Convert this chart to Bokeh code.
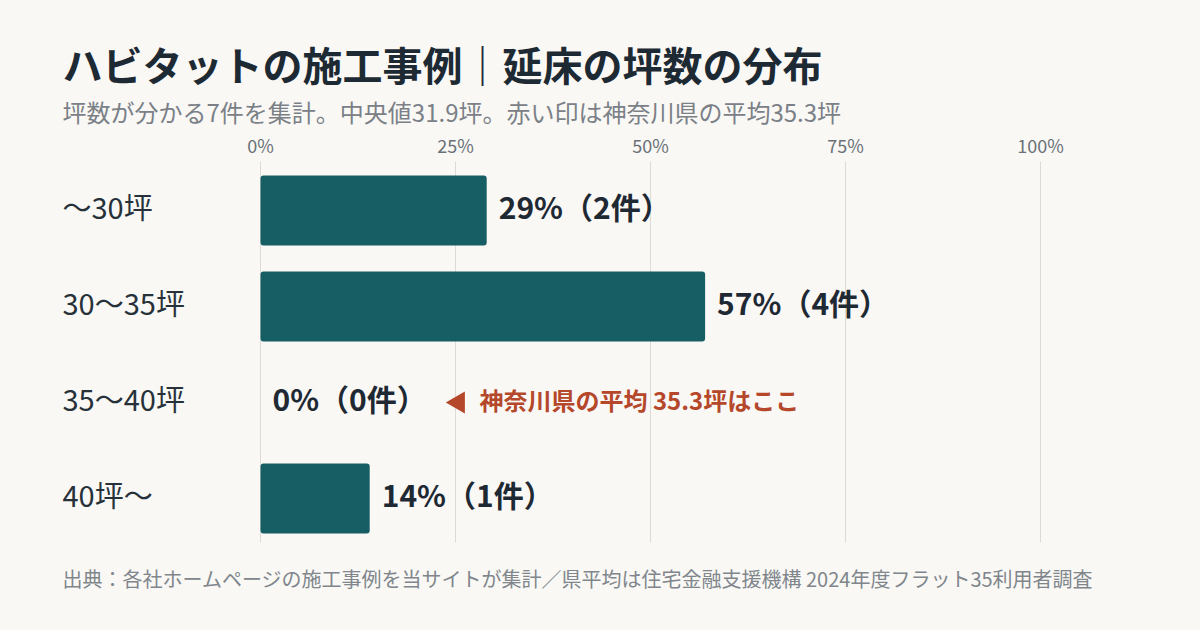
from bokeh.plotting import figure
from bokeh.models import Range1d, Label, FixedTicker, ColumnDataSource, LinearAxis
from bokeh.core.properties import value
from bokeh.embed import file_html
from bokeh.resources import INLINE

# ---- data ----
categories = ["〜30坪", "30〜35坪", "35〜40坪", "40坪〜"]
percents = [29, 57, 0, 14]
counts = [2, 4, 0, 1]
tick_values = [0, 25, 50, 75, 100]
tick_labels = ["0%", "25%", "50%", "75%", "100%"]
title_text = "ハビタットの施工事例｜延床の坪数の分布"
subtitle_text = "坪数が分かる7件を集計。中央値31.9坪。赤い印は神奈川県の平均35.3坪"
note_text = "神奈川県の平均 35.3坪はここ"
note_row = "35〜40坪"
footer_text = "出典：各社ホームページの施工事例を当サイトが集計／県平均は住宅金融支援機構 2024年度フラット35利用者調査"

FONT = "Noto Sans CJK JP"
BG = "#f9f8f5"
W, H = 1200, 630
PX = 7.8    # pixels per percent
ROW = 96    # pixels per row

idx = list(range(len(categories)))
value_labels = [f"{p}%（{c}件）" for p, c in zip(percents, counts)]
src = ColumnDataSource(dict(y=idx, cat=categories, pct=percents, lab=value_labels,
                            zero=[0] * len(idx)))

p = figure(width=W, height=H, output_backend="svg", toolbar_location=None,
           x_axis_location=None, y_axis_location=None,
           x_range=Range1d(-260 / PX, (W - 260) / PX),
           y_range=Range1d(3 + (H - 498) / ROW, -210 / ROW),
           min_border_left=0, min_border_right=0,
           min_border_top=0, min_border_bottom=0)
p.background_fill_color = BG
p.border_fill_color = BG
p.outline_line_color = None
p.xgrid.visible = False
p.ygrid.visible = False

grid_top = -49 / ROW
grid_bottom = 3 + 44 / ROW

ax = LinearAxis(ticker=FixedTicker(ticks=tick_values), fixed_location=grid_top)
ax.major_label_overrides = {t: l for t, l in zip(tick_values, tick_labels)}
ax.axis_line_color = None
ax.major_tick_line_color = None
ax.minor_tick_line_color = None
ax.major_tick_out = 0
ax.major_tick_in = 0
ax.minor_tick_out = 0
ax.minor_tick_in = 0
ax.major_label_standoff = 4
ax.major_label_text_font = FONT
ax.major_label_text_font_size = "18px"
ax.major_label_text_color = "#6b7177"
p.add_layout(ax, "above")

p.segment(x0=tick_values, y0=[grid_top] * len(tick_values),
          x1=tick_values, y1=[grid_bottom] * len(tick_values),
          line_color="#dddbd6", line_width=1)

p.hbar(y="y", left="zero", right="pct", height=70 / ROW, source=src,
       fill_color="#165e63", line_color=None, border_radius=3)

p.text(x="pct", y="y", text="lab", source=src, x_offset=12, y_offset=-5,
       text_font=value(FONT), text_font_style="bold", text_font_size="30px",
       text_color="#1f2933", text_baseline="middle", text_align="left")

p.text(x=-198 / PX, y="y", text="cat", source=src, y_offset=-5,
       text_font=value(FONT), text_font_size="29px",
       text_color="#27313a", text_baseline="middle", text_align="left")

note_y = categories.index(note_row)
p.scatter(x=[198 / PX], y=[note_y], marker="triangle", angle=1.5708,
          size=22, fill_color="#b5472a", line_color=None)
p.text(x=[219 / PX], y=[note_y], text=[note_text], y_offset=-3,
       text_font=value(FONT), text_font_style="bold", text_font_size="24px",
       text_color="#b5472a", text_baseline="middle", text_align="left")

p.add_layout(Label(x=62, y=H - 63, x_units="screen", y_units="screen",
                   text=title_text, text_font=FONT, text_font_style="bold",
                   text_font_size="40px", text_color="#1e2a33",
                   text_baseline="middle", text_align="left"))
p.add_layout(Label(x=62, y=H - 111, x_units="screen", y_units="screen",
                   text=subtitle_text, text_font=FONT,
                   text_font_size="24px", text_color="#7b8087",
                   text_baseline="middle", text_align="left"))
p.add_layout(Label(x=62, y=H - 578, x_units="screen", y_units="screen",
                   text=footer_text, text_font=FONT,
                   text_font_size="20px", text_color="#80868c",
                   text_baseline="middle", text_align="left"))

html = file_html(p, INLINE)
html = html.replace("</head>",
                    f"<style>html,body{{margin:0;padding:0;background:{BG};overflow:hidden;}}</style></head>", 1)
open("out.html", "w").write(html)
